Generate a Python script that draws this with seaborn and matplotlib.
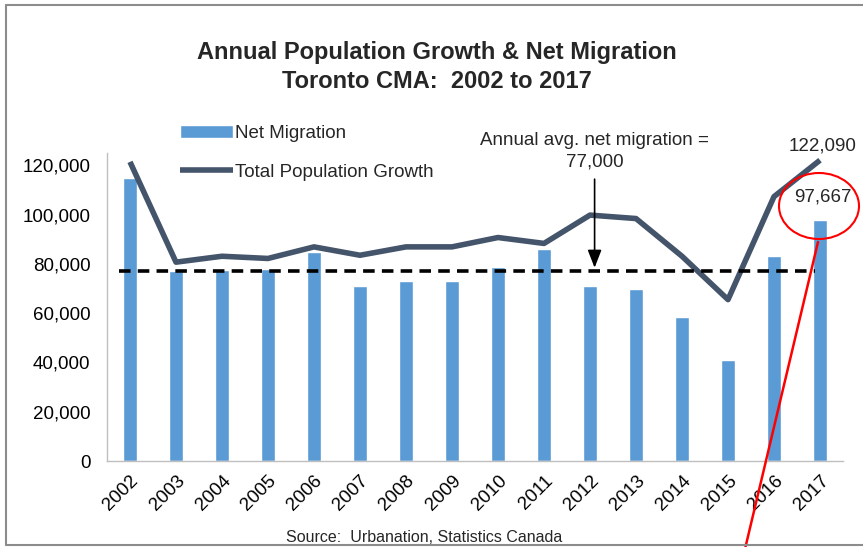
import numpy as np
import pandas as pd
import matplotlib
matplotlib.use("Agg")
import matplotlib.pyplot as plt
import seaborn as sns
from matplotlib.patches import Ellipse
from matplotlib.lines import Line2D

years = ["2002", "2003", "2004", "2005", "2006", "2007", "2008", "2009",
         "2010", "2011", "2012", "2013", "2014", "2015", "2016", "2017"]
net_migration = [114700, 77300, 77700, 77900, 84700, 70900, 73200, 73200,
                 78600, 86200, 70900, 70000, 58400, 41000, 83100, 97667]
total_growth = [121400, 80700, 83100, 82200, 86900, 83500, 86900, 86900,
                90700, 88300, 99800, 98400, 83100, 65500, 107300, 122090]
avg_net_migration = 77000
yticks = [0, 20000, 40000, 60000, 80000, 100000, 120000]

sns.set_theme(style="white")
plt.rcParams["font.family"] = ["Liberation Sans", "DejaVu Sans"]

W, H = 863, 547
fig = plt.figure(figsize=(W / 100, H / 100), dpi=100)
ax = fig.add_axes([107 / W, 1 - 461 / H, (843 - 107) / W, (461 - 153) / H])

df = pd.DataFrame({"year": years, "net": net_migration, "total": total_growth,
                   "pos": np.arange(len(years))})

sns.barplot(data=df, x="year", y="net", color="#5B9BD5", saturation=1,
            width=0.3, ax=ax, label="Net Migration")
sns.lineplot(data=df, x="pos", y="total", color="#44546A", linewidth=4,
             ax=ax, label="Total Population Growth", solid_capstyle="butt")

ax.set_xlim(-0.5, len(years) - 0.5)
ax.set_ylim(0, 125000)
ax.set_yticks(yticks)
ax.set_yticklabels([f"{v:,}" for v in yticks], fontsize=13.5)
ax.set_xticks(np.arange(len(years)))
ax.set_xticklabels(years, rotation=45, ha="right", rotation_mode="anchor",
                   fontsize=13.5)
ax.tick_params(axis="both", length=0, pad=12, colors="black")
ax.tick_params(axis="x", pad=8)
ax.set_xlabel("")
ax.set_ylabel("")
for s in ["top", "right"]:
    ax.spines[s].set_visible(False)
for s in ["left", "bottom"]:
    ax.spines[s].set_color("#BFBFBF")
    ax.spines[s].set_linewidth(1)

# average dashed line
ax.hlines(avg_net_migration, -0.25, len(years) - 1.1, colors="black",
          linewidth=2.6, linestyles=(0, (3.2, 2.0)), zorder=4)

# annotation text and arrow
ax.text(10.1, 125600, "Annual avg. net migration =\n77,000", ha="center",
        va="center", fontsize=13.5, linespacing=1.35, clip_on=False)
ax.annotate("", xy=(10.1, avg_net_migration + 300), xytext=(10.1, 115500),
            arrowprops=dict(arrowstyle="-|>,head_width=0.35,head_length=0.9",
                            color="black", lw=1.2), annotation_clip=False)

# value labels
ax.annotate(f"{total_growth[-1]:,}", xy=(len(years) - 1, total_growth[-1]),
            xytext=(2, 10), textcoords="offset points", ha="center",
            va="center", fontsize=13.5, annotation_clip=False)
ax.annotate(f"{net_migration[-1]:,}", xy=(len(years) - 1, net_migration[-1]),
            xytext=(2, 17), textcoords="offset points", ha="center",
            va="center", fontsize=13.5, annotation_clip=False)

# legend
handles, labels = ax.get_legend_handles_labels()
order = [labels.index("Net Migration"), labels.index("Total Population Growth")]
leg = ax.legend([handles[i] for i in order], [labels[i] for i in order],
                loc="upper left",
                bbox_to_anchor=(180 / W, 1 - 125 / H),
                bbox_transform=fig.transFigure, frameon=False,
                fontsize=13.5, handlelength=2.8, handleheight=0.7,
                handletextpad=0.15, labelspacing=1.15, borderpad=0,
                borderaxespad=0)

# title
fig.text(437 / W, 1 - 52 / H, "Annual Population Growth & Net Migration",
         ha="center", va="center", fontsize=17, fontweight="bold")
fig.text(437 / W, 1 - 81 / H, "Toronto CMA:  2002 to 2017",
         ha="center", va="center", fontsize=17, fontweight="bold")

# source
fig.text(424 / W, 1 - 537 / H, "Source:  Urbanation, Statistics Canada",
         ha="center", va="center", fontsize=11.5)

# red highlight ellipse and line
fig.add_artist(Ellipse((819 / W, 1 - 206 / H), 80 / W, 66 / H,
                       transform=fig.transFigure, fill=False,
                       edgecolor="red", linewidth=1.5))
fig.add_artist(Line2D([818 / W, 745 / W], [1 - 242 / H, 1 - 549 / H],
                      transform=fig.transFigure, color="red", linewidth=1.8))

# figure border
gray = "#8C8C8C"
fig.add_artist(Line2D([6 / W, 6 / W], [1 - 4.5 / H, 1 - 545 / H],
                      transform=fig.transFigure, color=gray, linewidth=1.5))
fig.add_artist(Line2D([6 / W, 1.0], [1 - 4.5 / H, 1 - 4.5 / H],
                      transform=fig.transFigure, color=gray, linewidth=1.5))
fig.add_artist(Line2D([6 / W, 1.0], [1 - 545 / H, 1 - 545 / H],
                      transform=fig.transFigure, color=gray, linewidth=1.5))

fig.savefig("out.png", dpi=100)
